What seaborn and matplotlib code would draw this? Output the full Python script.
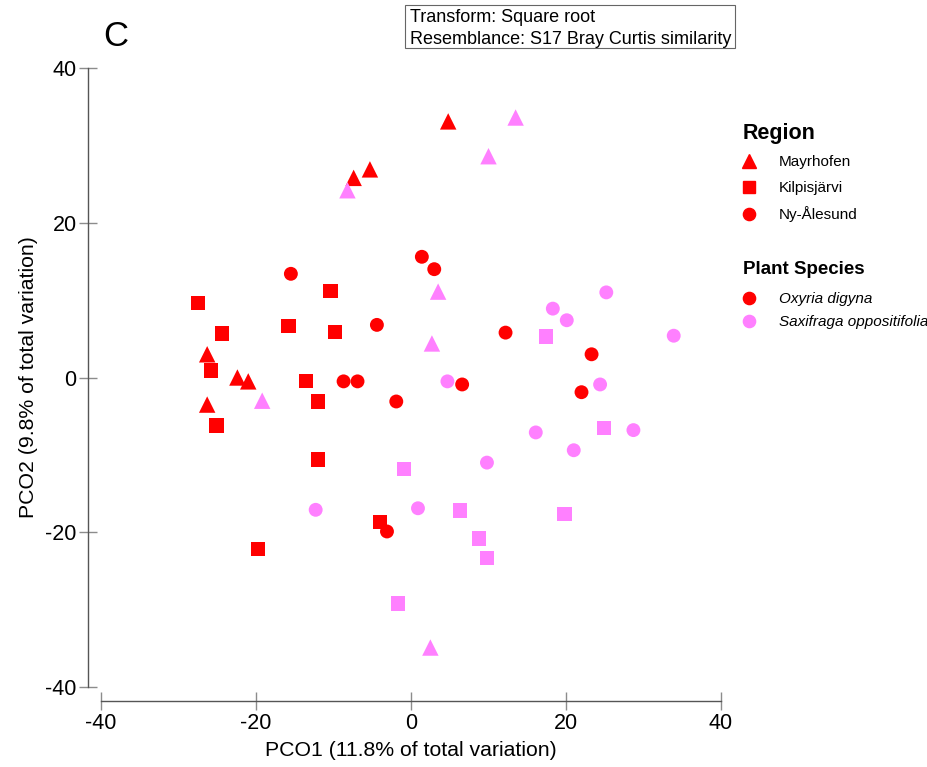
import numpy as np
import pandas as pd
import matplotlib.pyplot as plt
from matplotlib.lines import Line2D
from matplotlib.patches import Rectangle
import seaborn as sns

may_oxy_x = [4.8, -7.4, -5.3, -26.3, -22.4, -21.0, -26.3]
may_oxy_y = [33.1, 25.8, 26.9, 3.0, 0.0, -0.5, -3.5]
may_sax_x = [13.5, 10.0, -8.2, 3.5, 2.7, -19.2, 2.5]
may_sax_y = [33.6, 28.6, 24.2, 11.1, 4.4, -3.0, -34.9]

kil_oxy_x = [-27.5, -24.4, -25.8, -25.1, -10.4, -15.8, -9.8, -13.5, -12.0, -12.0, -4.0, -19.7]
kil_oxy_y = [9.6, 5.7, 0.9, -6.2, 11.2, 6.7, 5.9, -0.5, -3.1, -10.6, -18.7, -22.2]
kil_sax_x = [17.4, 24.9, -0.9, 6.3, 8.8, 9.8, 19.8, -1.7]
kil_sax_y = [5.3, -6.5, -11.8, -17.2, -20.8, -23.3, -17.6, -29.2]

ny_oxy_x = [-15.5, 1.4, 3.0, -4.4, -8.7, -6.9, -1.9, -3.1, 12.2, 6.6, 23.3, 22.0]
ny_oxy_y = [13.4, 15.6, 14.0, 6.8, -0.5, -0.5, -3.1, -19.9, 5.8, -0.9, 3.0, -1.9]
ny_sax_x = [-12.3, 0.9, 4.7, 25.2, 18.3, 20.1, 33.9, 24.4, 16.1, 28.7, 9.8, 21.0]
ny_sax_y = [-17.1, -16.9, -0.5, 11.0, 8.9, 7.4, 5.4, -0.9, -7.1, -6.8, -11.0, -9.4]

regions = ["Mayrhofen", "Kilpisjärvi", "Ny-Ålesund"]
species = ["Oxyria digyna", "Saxifraga oppositifolia"]

groups = [
    ("Mayrhofen", "Oxyria digyna", may_oxy_x, may_oxy_y),
    ("Mayrhofen", "Saxifraga oppositifolia", may_sax_x, may_sax_y),
    ("Kilpisjärvi", "Oxyria digyna", kil_oxy_x, kil_oxy_y),
    ("Kilpisjärvi", "Saxifraga oppositifolia", kil_sax_x, kil_sax_y),
    ("Ny-Ålesund", "Oxyria digyna", ny_oxy_x, ny_oxy_y),
    ("Ny-Ålesund", "Saxifraga oppositifolia", ny_sax_x, ny_sax_y),
]
df = pd.concat(
    [pd.DataFrame({"PCO1": gx, "PCO2": gy, "Region": reg, "Species": sp})
     for reg, sp, gx, gy in groups],
    ignore_index=True,
)

# ── style ──────────────────────────────────────────────────────
sns.set_style("white")
plt.rcParams["font.family"] = ["Liberation Sans", "DejaVu Sans"]
plt.rcParams["axes.unicode_minus"] = False
plt.rcParams["text.color"] = "black"
plt.rcParams["axes.labelcolor"] = "black"

RED = "#FF0000"
PINK = "#FF80FF"
palette = {"Oxyria digyna": RED, "Saxifraga oppositifolia": PINK}
markers = {"Mayrhofen": "^", "Kilpisjärvi": "s", "Ny-Ålesund": "o"}
sizes = {"Mayrhofen": 140, "Kilpisjärvi": 105, "Ny-Ålesund": 100}

fig = plt.figure(figsize=(9.28, 7.67), dpi=100)
ax = fig.add_axes([101 / 928, 80 / 767, 620 / 928, 619 / 767])

for reg in regions:
    sns.scatterplot(data=df[df["Region"] == reg], x="PCO1", y="PCO2",
                    hue="Species", palette=palette, marker=markers[reg],
                    s=sizes[reg], linewidth=0, legend=False, ax=ax)

ax.set_xlim(-40, 40)
ax.set_ylim(-40, 40)
ax.set_xticks([-40, -20, 0, 20, 40])
ax.set_yticks([-40, -20, 0, 20, 40])

for side in ["top", "right"]:
    ax.spines[side].set_visible(False)
ax.spines["left"].set_position(("outward", 9))
ax.spines["bottom"].set_position(("outward", 10))
for side in ["left", "bottom"]:
    ax.spines[side].set_color("#555555")
    ax.spines[side].set_linewidth(1.0)

ax.tick_params(axis="both", bottom=True, left=True, direction="inout",
               length=13, width=1, color="#8c8c8c", labelsize=15.5,
               labelcolor="black", pad=2)

ax.set_xlabel("PCO1 (11.8% of total variation)", fontsize=15.3, labelpad=5.5)
ax.set_ylabel("PCO2 (9.8% of total variation)", fontsize=15.3, labelpad=5.5)

# ── panel letter + resemblance note ───────────────────────────
fig.text(116 / 928, 1 - 37 / 767, "C", ha="center", va="center", fontsize=25)
fig.patches.append(Rectangle((405 / 928, 1 - 48 / 767), 330 / 928, 43 / 767,
                             transform=fig.transFigure, fc="white",
                             ec="#666666", lw=0.8))
fig.text(410 / 928, 1 - 28.5 / 767,
         "Transform: Square root\nResemblance: S17 Bray Curtis similarity",
         ha="left", va="center", fontsize=13, linespacing=1.42)

# ── legends ───────────────────────────────────────────────────
region_ms = {"Mayrhofen": 10.6, "Kilpisjärvi": 8.3, "Ny-Ålesund": 8.8}
region_handles = [Line2D([], [], marker=markers[r], color=RED, ls="",
                         markersize=region_ms[r]) for r in regions]
leg1 = fig.legend(handles=region_handles, labels=regions, title="Region",
                  loc="upper left", bbox_to_anchor=(743 / 928, 1 - 123 / 767),
                  frameon=False, fontsize=11, alignment="left",
                  title_fontproperties={"weight": "bold", "size": 15.5},
                  handlelength=0.8, handletextpad=1.55, labelspacing=0.75,
                  borderpad=0, borderaxespad=0)

fig.text(743 / 928, 1 - 270 / 767, "Plant Species", ha="left", va="center",
         fontsize=13.5, fontweight="bold")
species_handles = [Line2D([], [], marker="o", color=palette[s], ls="",
                          markersize=8.8) for s in species]
leg2 = fig.legend(handles=species_handles, labels=species,
                  loc="upper left", bbox_to_anchor=(743 / 928, 1 - 292 / 767),
                  frameon=False, prop={"size": 11, "style": "italic"},
                  handlelength=0.8, handletextpad=1.55, labelspacing=0.6,
                  borderpad=0, borderaxespad=0)

fig.savefig("out.png", dpi=100)
plt.close(fig)
